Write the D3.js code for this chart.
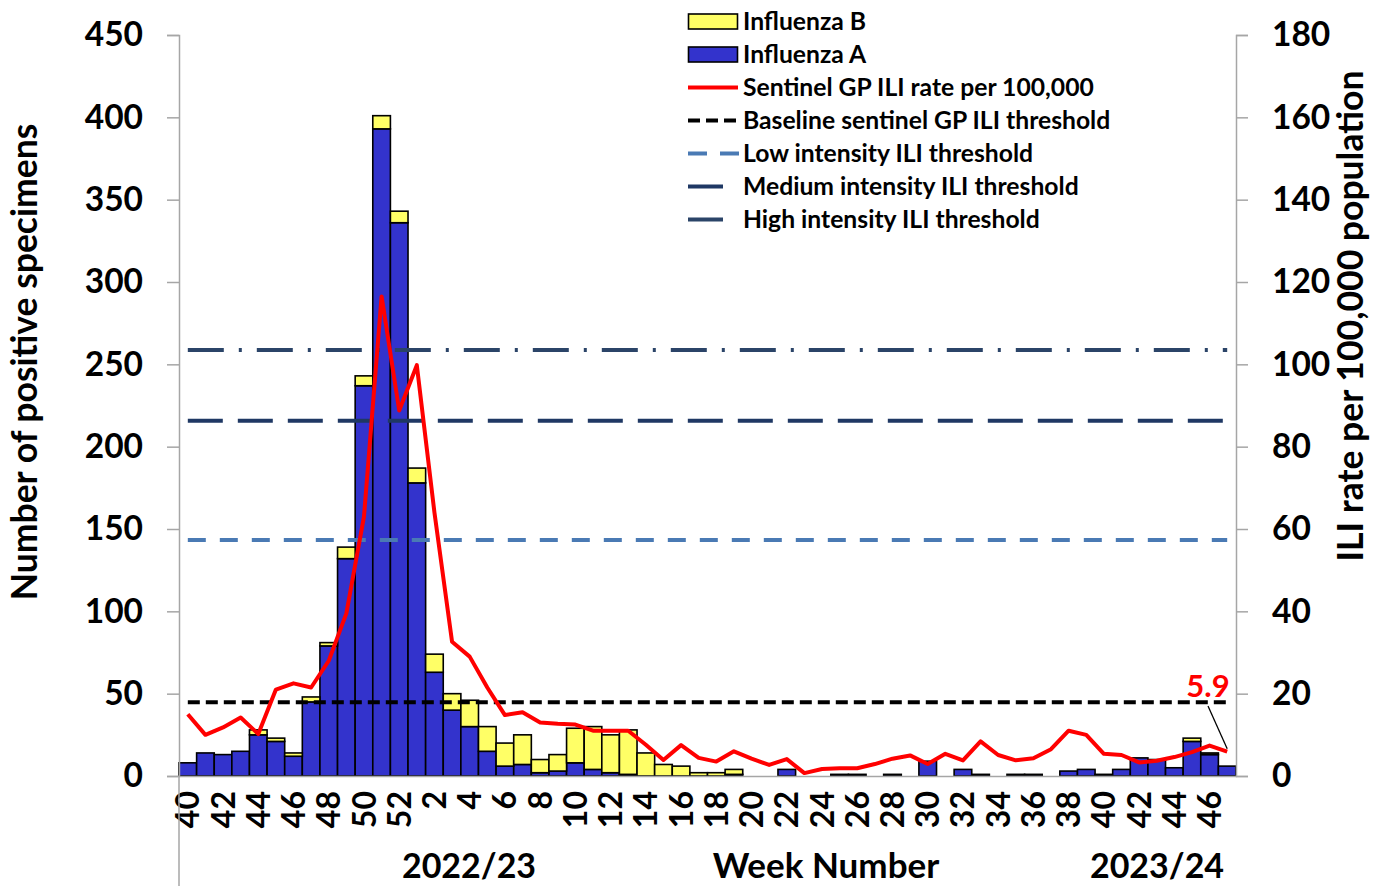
<!DOCTYPE html>
<html><head><meta charset="utf-8">
<script src="https://cdn.jsdelivr.net/npm/d3@7"></script>
<style>
body{margin:0;background:#fff;}
svg{display:block;}
text{font-family:Lato,"Open Sans",sans-serif;font-weight:bold;fill:#000;}
</style>
</head><body>
<svg id="chart" width="1379" height="886"></svg>
<script>
// ---------- DATA ----------
const weeks = [40,41,42,43,44,45,46,47,48,49,50,51,52,
  1,2,3,4,5,6,7,8,9,10,11,12,13,14,15,16,17,18,19,20,21,22,23,24,25,26,27,28,29,30,
  31,32,33,34,35,36,37,38,39,40,41,42,43,44,45,46,47];
const influenzaA = [8,14,13,15,25,21,12,45,79,132,237,393,336,
  178,63,40,30,15,6,7,2,3,8,4,2,1,0,0,0,0,0,1,0,0,4,0,0,1,1,0,1,0,9,
  0,4,1,0,1,1,0,3,4,1,4,11,10,5,21,13,6];
const influenzaB = [0,0,0,0,3,2,2,3,2,7,6,8,7,
  9,11,10,16,15,14,18,8,10,21,26,23,27,14,7,6,2,2,3,0,0,0,0,0,0,0,0,0,0,0,
  0,0,0,0,0,0,0,0,0,0,0,0,0,0,2,1,0];
const iliRate = [15.0,10.0,11.8,14.2,10.2,21.0,22.5,21.5,28.0,39.5,63.0,116.5,88.8,
  99.8,64.0,32.6,29.0,21.5,14.8,15.5,13.0,12.7,12.5,11.0,11.0,11.0,7.6,3.9,7.5,4.4,3.5,6.0,4.2,2.7,4.1,0.7,1.7,1.9,1.9,2.9,4.2,5.0,2.9,
  5.4,3.8,8.4,5.1,3.8,4.3,6.5,11.0,10.0,5.4,5.1,3.3,3.7,4.6,5.8,7.4,5.9];
const leftTicks = [0,50,100,150,200,250,300,350,400,450];
const rightTicks = [0,20,40,60,80,100,120,140,160,180];
const baselineThreshold = 17.9;
const lowThreshold = 57.3;
const mediumThreshold = 86.3;
const highThreshold = 103.5;
const latestValueLabel = "5.9";
const seasonLabels = ["2022/23","2023/24"];

// ---------- LAYOUT ----------
const svg = d3.select("#chart");
const L = 179, R = 1236, T = 35, B = 776;
const x = d3.scaleBand().domain(d3.range(weeks.length)).range([L, R]).padding(0);
const yL = d3.scaleLinear().domain([0, 450]).range([B, T]);
const yR = d3.scaleLinear().domain([0, 180]).range([B, T]);
const axisColor = "#a6a6a6";

const table = weeks.map((w, i) => ({i, A: influenzaA[i], B: influenzaB[i]}));
const stacked = d3.stack().keys(["A", "B"])(table);
const colors = {A: "#3333cc", B: "#ffff66"};

// bars
const gBars = svg.append("g");
stacked.forEach(layer => {
  gBars.selectAll(null).data(layer).join("rect")
    .attr("x", d => x(d.data.i))
    .attr("width", x.bandwidth())
    .attr("y", d => yL(d[1]))
    .attr("height", d => Math.max(0, yL(d[0]) - yL(d[1])))
    .attr("fill", colors[layer.key])
    .attr("stroke", "#000")
    .attr("stroke-width", d => (d[1] - d[0]) > 0 ? 1.6 : 0);
});

// axes
const gl = svg.append("g").attr("transform", `translate(${L},0)`)
  .call(d3.axisLeft(yL).tickValues(leftTicks).tickSize(12).tickPadding(24));
const gr = svg.append("g").attr("transform", `translate(${R},0)`)
  .call(d3.axisRight(yR).tickValues(rightTicks).tickSize(12).tickPadding(24));
[gl, gr].forEach(g => {
  g.attr("font-family", null);
  g.select(".domain").attr("stroke", axisColor).attr("stroke-width", 1.5);
  g.selectAll(".tick line").attr("stroke", axisColor).attr("stroke-width", 1.5);
  g.selectAll(".tick text").style("font-size", "33.5px");
});

const gx = svg.append("g").attr("transform", `translate(0,${B})`)
  .call(d3.axisBottom(x).tickValues(d3.range(0, weeks.length, 2)).tickSize(0)
    .tickFormat(i => weeks[i]));
gx.attr("font-family", null);
gx.select(".domain").attr("stroke", axisColor).attr("stroke-width", 1.5);
gx.selectAll(".tick text")
  .style("font-size", "32px")
  .attr("text-anchor", "end")
  .attr("transform", "rotate(-90)")
  .attr("x", -15).attr("y", 0).attr("dy", "0.36em");

// season divider
svg.append("line").attr("x1", L).attr("x2", L).attr("y1", B).attr("y2", 886)
  .attr("stroke", axisColor).attr("stroke-width", 1.5);

// thresholds
const cx = i => x(i) + x.bandwidth() / 2;
const thr = [
  {v: baselineThreshold, c: "#000000", dash: "12,6"},
  {v: lowThreshold, c: "#4a7ab4", dash: "18,14"},
  {v: mediumThreshold, c: "#1f3864", dash: "35,15"},
  {v: highThreshold, c: "#2b4468", dash: "36,15,3,15"}
];
thr.forEach(t => {
  svg.append("line")
    .attr("x1", cx(0)).attr("x2", cx(weeks.length - 1))
    .attr("y1", yR(t.v)).attr("y2", yR(t.v))
    .attr("stroke", t.c).attr("stroke-width", 4).attr("stroke-dasharray", t.dash);
});

// ILI line
svg.append("path").datum(iliRate)
  .attr("fill", "none").attr("stroke", "#ff0000").attr("stroke-width", 4)
  .attr("stroke-linejoin", "round")
  .attr("d", d3.line().x((d, i) => cx(i)).y(d => yR(d)));

// latest label + leader
const lastI = weeks.length - 1;
svg.append("line").attr("x1", 1208).attr("y1", 706)
  .attr("x2", cx(lastI)).attr("y2", yR(iliRate[lastI]) - 3)
  .attr("stroke", "#000").attr("stroke-width", 1.3);
svg.append("text").attr("x", 1208).attr("y", 697).attr("text-anchor", "middle")
  .style("font-size", "31px").style("fill", "#ff0000").text(latestValueLabel);

// axis titles
svg.append("text").attr("transform", "translate(37,362) rotate(-90)")
  .attr("text-anchor", "middle").style("font-size", "35.5px")
  .text("Number of positive specimens");
svg.append("text").attr("transform", "translate(1363,316) rotate(-90)")
  .attr("text-anchor", "middle").style("font-size", "35.5px")
  .text("ILI rate per 100,000 population");
svg.append("text").attr("x", 469).attr("y", 878).attr("text-anchor", "middle")
  .style("font-size", "34px").text(seasonLabels[0]);
svg.append("text").attr("x", 826).attr("y", 878).attr("text-anchor", "middle")
  .style("font-size", "35px").text("Week Number");
svg.append("text").attr("x", 1157).attr("y", 878).attr("text-anchor", "middle")
  .style("font-size", "34px").text(seasonLabels[1]);

// legend
const legend = [
  {label: "Influenza B", type: "rect", fill: colors.B},
  {label: "Influenza A", type: "rect", fill: colors.A},
  {label: "Sentinel GP ILI rate per 100,000", type: "line", c: "#ff0000", dash: null, len: 50},
  {label: "Baseline sentinel GP ILI threshold", type: "line", c: "#000", dash: "12,6", len: 50},
  {label: "Low intensity ILI threshold", type: "line", c: "#4a7ab4", dash: "19,13", len: 51},
  {label: "Medium intensity ILI threshold", type: "line", c: "#1f3864", dash: null, len: 35},
  {label: "High intensity ILI threshold", type: "line", c: "#2b4468", dash: null, len: 35}
];
const lg = svg.append("g");
legend.forEach((d, k) => {
  const yy = 21.5 + k * 33;
  if (d.type === "rect") {
    lg.append("rect").attr("x", 688.5).attr("y", yy - 7.5).attr("width", 49).attr("height", 15)
      .attr("fill", d.fill).attr("stroke", "#000").attr("stroke-width", 1.6);
  } else {
    lg.append("line").attr("x1", 688).attr("x2", 688 + d.len).attr("y1", yy).attr("y2", yy)
      .attr("stroke", d.c).attr("stroke-width", 4)
      .attr("stroke-dasharray", d.dash);
  }
  lg.append("text").attr("x", 743).attr("y", yy).attr("dy", "0.36em")
    .style("font-size", "24.7px").text(d.label);
});
</script>
</body></html>
